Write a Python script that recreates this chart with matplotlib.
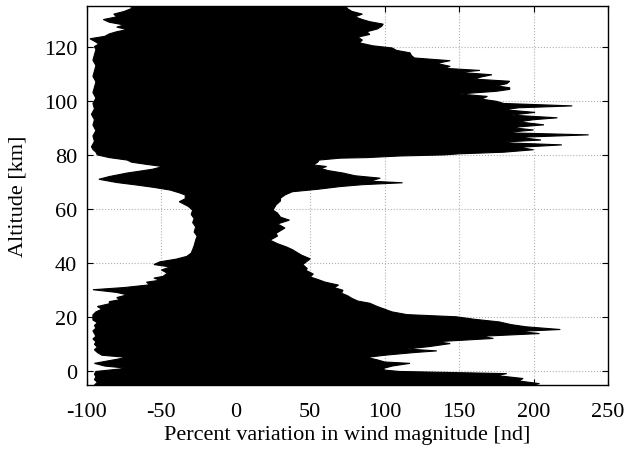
import numpy as np
import matplotlib.pyplot as plt
import matplotlib

font = {"family": "serif", "serif": ["Liberation Serif", "DejaVu Serif"], "size": 16}
matplotlib.rc("font", **font)
matplotlib.rcParams["axes.unicode_minus"] = False

# right edge of the envelope (altitude [km], percent)
alt_r = [-5, -4.5, -3.5, -2.6, -1.5, -0.8, 0, 0.5, 1.1, 2, 3, 3.5, 4.3, 5.2, 6, 7,
         7.6, 8.3, 9.2, 10.3, 11, 12.2, 13, 14, 14.8, 15.5, 16.5, 17.3, 18.3, 19.3,
         20.2, 21, 22, 23, 24, 25.2, 26, 27, 28, 28.9, 30, 31, 31.9, 33, 34, 34.9,
         36, 37.4, 38, 39.5, 41.6, 43, 44, 45, 46, 47.2, 48.5, 50, 51, 52, 53, 54.5,
         55.9, 57, 58.5, 59.6, 61.5, 63, 64, 65.2, 66.4, 67.3, 68.3, 69, 69.7, 70.3,
         71.4, 72.3, 73.3, 74.2, 75, 75.7, 76.3, 77.3, 78.1, 78.8, 79, 79.6, 80,
         80.4, 81, 81.9, 82.8, 83.7, 84.6, 85.5, 86.5, 87.4, 88.2, 89.2, 90.1, 91.1,
         92.2, 93, 93.7, 94.7, 95.7, 96.7, 97.4, 98.1, 99, 99.8, 100.6, 101.6,
         102.5, 103.5, 104.2, 104.8, 105.5, 106.3, 107.2, 108, 108.8, 109.6, 110.5,
         111.2, 112, 112.7, 113.8, 114.8, 115.8, 116.7, 117.7, 118.6, 119.5, 120.3,
         121.4, 122.4, 123.5, 124.5, 125.5, 126.5, 127.5, 128.3, 129.2, 130, 131,
         132, 133, 134, 135]
val_r = [200, 204, 190, 193, 175, 182, 110, 100, 99, 105, 117, 100, 95, 88, 100, 120,
         135, 115, 130, 144, 135, 173, 165, 204, 190, 218, 195, 185, 177, 160,
         148, 115, 105, 100, 95, 90, 82, 78, 75, 71, 72, 66, 69, 60, 55, 50,
         52, 47, 48, 45, 50, 44, 41, 38, 34, 28, 23, 28, 27, 30, 33, 28,
         36, 30, 28, 25, 27, 30, 30, 33, 38, 55, 70, 85, 112, 90,
         97, 80, 72, 62, 57, 61, 52, 55, 56, 70, 88, 110, 140,
         150, 180, 200, 190, 219, 175, 205, 190, 237, 180, 200, 185, 207,
         190, 200, 216, 185, 201, 180, 190, 226, 180, 175, 165, 169,
         150, 175, 184, 184, 175, 182, 184, 160, 165, 172, 150,
         164, 140, 144, 135, 144, 120, 118, 117, 108, 105, 92,
         83, 85, 82, 90, 88, 95, 98, 99, 90, 85, 80,
         85, 78, 75, 74]

# left edge of the envelope
alt_l = [-5, -4, -3, -2, -1, 0, 1.2, 2, 3, 4, 5.2, 6, 7, 8, 9, 10, 11, 12, 13, 14,
         15, 16, 17, 18, 19, 20.9, 22, 23, 24, 25, 25.8, 26.5, 27.3, 28.3, 29.2,
         30.2, 31, 32, 33, 33.7, 34.5, 35.1, 36.3, 37.5, 38.6, 39.5, 40.5, 41.5,
         42.5, 43.7, 45, 46.5, 48.5, 50, 51.5, 53.4, 55, 56.5, 58, 59.6, 61, 62.7,
         63.8, 65.2, 66, 67, 68, 68.9, 69.8, 71, 72, 73.3, 74.2, 74.7, 75.7, 76.5,
         77.3, 78.1, 79, 80, 81, 82, 83, 85, 87, 89, 91, 93, 95, 97, 99, 101, 103,
         105, 107, 109, 111, 113, 115, 117, 118.9, 120, 121, 122, 122.9, 123.8,
         124.7, 125.5, 126.3, 127.2, 128, 129, 130, 131, 132, 133, 134.3, 135]
val_l = [-95, -93, -95, -94, -95, -94, -73, -88, -95, -85, -73, -90, -93, -95, -93,
         -95, -94, -96, -94, -95, -96, -94, -95, -93, -96, -96, -94, -90, -93, -85,
         -85, -78, -80, -73, -80, -96, -75, -58, -60, -51, -55, -49, -46, -50, -44,
         -55, -51, -40, -33, -30, -29, -28, -27, -26, -28, -27, -29, -28, -30, -29,
         -32, -38, -34, -34, -38, -44, -55, -67, -80, -92, -85, -73, -62, -56, -49,
         -60, -70, -73, -85, -93, -94, -96, -97, -95, -96, -94, -96, -95, -97, -95,
         -96, -94, -96, -95, -94, -96, -95, -94, -96, -95, -94, -95, -92, -95, -98,
         -88, -85, -80, -73, -80, -75, -85, -89, -80, -82, -75, -69, -72]

fig = plt.figure(figsize=(6.28, 4.52), dpi=100)
ax = fig.add_axes([0.1385, 0.146, 0.8296, 0.8385])

# closed polygon: up the left edge, back down the right edge
xs = list(val_l) + list(val_r[::-1])
ys = list(alt_l) + list(alt_r[::-1])
ax.fill(xs, ys, facecolor="black", edgecolor="black", lw=0.8, zorder=2)

ax.set_xlim(-100, 250)
ax.set_ylim(-5, 135)
ax.set_xticks(np.arange(-100, 251, 50))
ax.set_yticks(np.arange(0, 121, 20))
ax.grid(True, color="#b0b0b0", linestyle=":", linewidth=0.8, zorder=1)
ax.tick_params(direction="in", top=True, right=True, length=4, width=0.8)
ax.tick_params(axis="x", pad=12)
ax.tick_params(axis="y", pad=7)
for s in ax.spines.values():
    s.set_linewidth(1.0)
    s.set_zorder(3)

ax.set_xlabel("Percent variation in wind magnitude [nd]", labelpad=3)
ax.set_ylabel("Altitude [km]", labelpad=12)

fig.savefig("out.png", dpi=100)
